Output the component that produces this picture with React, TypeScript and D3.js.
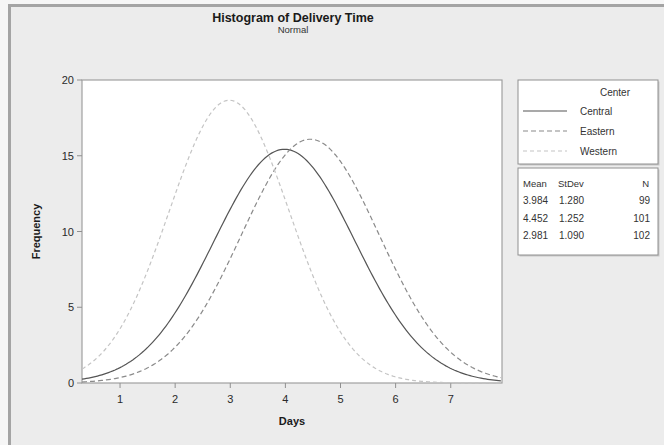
import React from "react";
import * as d3 from "d3";

const groups = ["Central", "Eastern", "Western"];
const means = [3.984, 4.452, 2.981];
const stdevs = [1.28, 1.252, 1.09];
const counts = [99, 101, 102];
const meanLabels = ["3.984", "4.452", "2.981"];
const sdLabels = ["1.280", "1.252", "1.090"];
const binWidth = 0.5;
const xTicks = [1, 2, 3, 4, 5, 6, 7];
const yTicks = [0, 5, 10, 15, 20];

const W = 664;
const H = 445;
const plot = { left: 82, right: 502, top: 80, bottom: 383 };
const strokes = ["#555555", "#8a8a8a", "#c4c4c4"];
const dashes = ["none", "5,3", "4,3"];
const font = "'Liberation Sans', Arial, sans-serif";

export default function App() {
  const x = d3.scaleLinear().domain([0.31, 7.93]).range([plot.left, plot.right]);
  const y = d3.scaleLinear().domain([0, 20]).range([plot.bottom, plot.top]);
  const samples = d3.range(0.31, 7.93 + 1e-9, 0.04);
  const line = d3
    .line<[number, number]>()
    .x((d) => x(d[0]))
    .y((d) => y(d[1]));
  const curve = (i: number) =>
    samples.map((t) => {
      const z = (t - means[i]) / stdevs[i];
      const f = (counts[i] * binWidth) / (stdevs[i] * Math.sqrt(2 * Math.PI)) * Math.exp(-0.5 * z * z);
      return [t, f] as [number, number];
    });

  const lx = 518, lw = 140;
  return (
    <svg width={W} height={H} style={{ position: "absolute", left: 0, top: 0 }} fontFamily={font}>
      <rect x={0} y={0} width={W} height={H} fill="#f6f6f6" />
      <rect x={9} y={6} width={W - 9} height={H - 6} fill="#ececec" />
      <line x1={8} y1={5.5} x2={W} y2={5.5} stroke="#a4a4a4" strokeWidth={3} />
      <line x1={9.5} y1={5} x2={9.5} y2={H} stroke="#a4a4a4" strokeWidth={3} />

      <text x={293} y={22} textAnchor="middle" fontSize={12.5} fontWeight="bold" fill="#1a1a1a">
        Histogram of Delivery Time
      </text>
      <text x={293} y={33} textAnchor="middle" fontSize={9.5} fill="#333">
        Normal
      </text>

      <rect x={plot.left} y={plot.top} width={plot.right - plot.left} height={plot.bottom - plot.top} fill="#ffffff" stroke="#a0a0a0" strokeWidth={1.2} />

      {yTicks.map((t) => (
        <g key={"y" + t}>
          <line x1={plot.left - 5} x2={plot.left} y1={y(t)} y2={y(t)} stroke="#909090" />
          <text x={plot.left - 8} y={y(t) + 4} textAnchor="end" fontSize={11} fill="#2a2a2a">
            {t}
          </text>
        </g>
      ))}
      {xTicks.map((t) => (
        <g key={"x" + t}>
          <line x1={x(t)} x2={x(t)} y1={plot.bottom} y2={plot.bottom + 5} stroke="#909090" />
          <text x={x(t)} y={plot.bottom + 20} textAnchor="middle" fontSize={11} fill="#2a2a2a">
            {t}
          </text>
        </g>
      ))}
      <text x={292} y={425} textAnchor="middle" fontSize={11} fontWeight="bold" fill="#1a1a1a">
        Days
      </text>
      <text transform={`translate(40,${(plot.top + plot.bottom) / 2}) rotate(-90)`} textAnchor="middle" fontSize={11} fontWeight="bold" fill="#1a1a1a">
        Frequency
      </text>

      <g>
        {groups.map((g, i) => (
          <path key={g} d={line(curve(i)) || ""} fill="none" stroke={strokes[i]} strokeWidth={1.2} strokeDasharray={dashes[i]} />
        ))}
      </g>

      <rect x={lx + 1.5} y={81.5} width={lw} height={84} fill="#c8c8c8" />
      <rect x={lx} y={80} width={lw} height={84} fill="#ffffff" stroke="#909090" />
      <text x={630} y={96} textAnchor="end" fontSize={10} fill="#333">Center</text>
      {groups.map((g, i) => (
        <g key={"lg" + g}>
          <line x1={523} x2={567} y1={111 + i * 20} y2={111 + i * 20} stroke={strokes[i]} strokeWidth={1.2} strokeDasharray={dashes[i]} />
          <text x={580} y={115 + i * 20} fontSize={10} fill="#333">{g}</text>
        </g>
      ))}

      <rect x={lx + 1.5} y={169.5} width={lw} height={87} fill="#c8c8c8" />
      <rect x={lx} y={168} width={lw} height={87} fill="#ffffff" stroke="#909090" />
      <text x={523} y={187} fontSize={9.5} fill="#333">Mean</text>
      <text x={558} y={187} fontSize={9.5} fill="#333">StDev</text>
      <text x={649} y={187} textAnchor="end" fontSize={9.5} fill="#333">N</text>
      {groups.map((g, i) => (
        <g key={"st" + g}>
          <text x={523} y={204 + i * 17.5} fontSize={10} fill="#333">{meanLabels[i]}</text>
          <text x={559} y={204 + i * 17.5} fontSize={10} fill="#333">{sdLabels[i]}</text>
          <text x={650} y={204 + i * 17.5} textAnchor="end" fontSize={10} fill="#333">{counts[i]}</text>
        </g>
      ))}
    </svg>
  );
}
